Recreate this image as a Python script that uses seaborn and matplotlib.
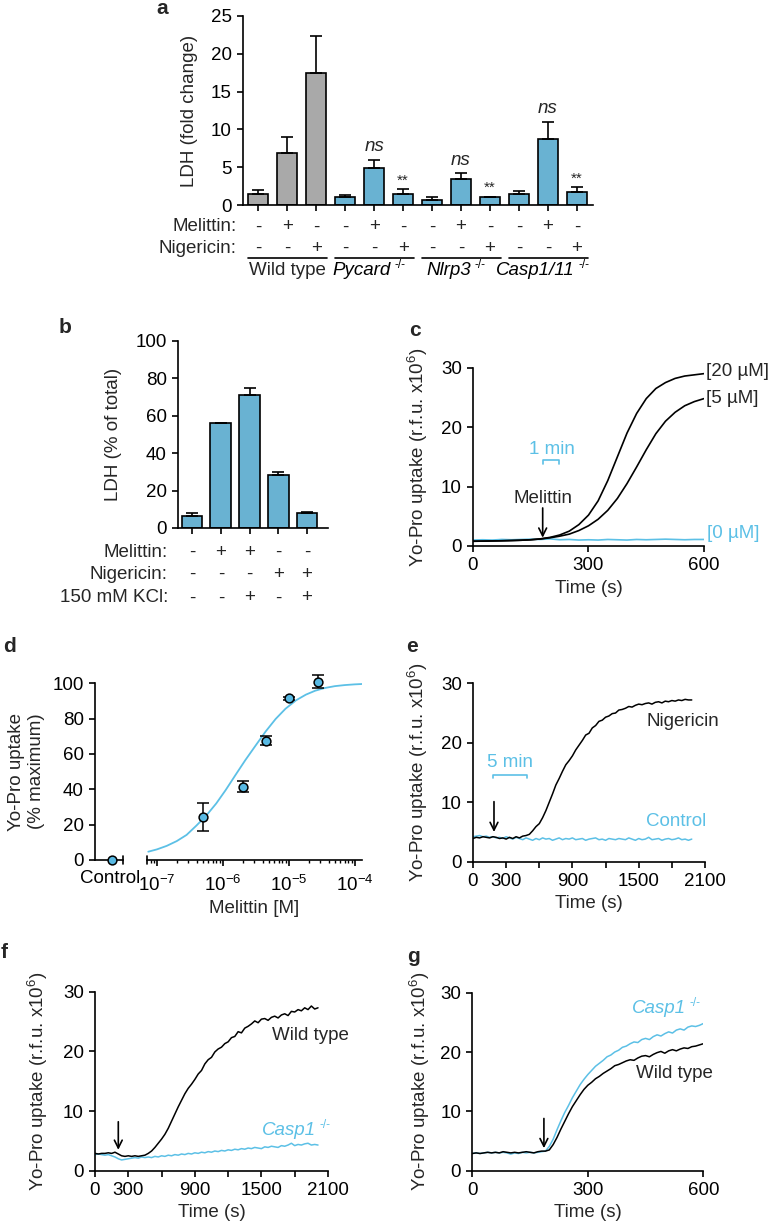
import numpy as np
import pandas as pd
import matplotlib
matplotlib.use('Agg')
import matplotlib.pyplot as plt
import matplotlib.ticker as mticker
import seaborn as sns

CYAN = '#58B9E3'
CYAN_LINE = '#5CC0E6'
GREY = '#A9A9A9'

# ---------------- data ----------------
# a: LDH fold change per genotype x treatment
a_groups = ['Wild type', 'Pycard', 'Nlrp3', 'Casp1/11']
a_melittin = ['-', '+', '-', '-', '+', '-', '-', '+', '-', '-', '+', '-']
a_nigericin = ['-', '-', '+', '-', '-', '+', '-', '-', '+', '-', '-', '+']
a_ldh = [1.5, 6.9, 17.5, 1.0, 4.9, 1.5, 0.7, 3.5, 1.0, 1.4, 8.7, 1.7]
a_err = [0.45, 2.05, 4.85, 0.3, 1.1, 0.6, 0.35, 0.7, 0.12, 0.4, 2.3, 0.7]
a_marks = ['', '', '', '', 'ns', '**', '', 'ns', '**', '', 'ns', '**']

# b: LDH % of total
b_melittin = ['-', '+', '+', '-', '-']
b_nigericin = ['-', '-', '-', '+', '+']
b_kcl = ['-', '-', '+', '-', '+']
b_ldh = [6.4, 56.0, 71.1, 28.3, 7.8]
b_err = [1.8, 0.3, 3.6, 1.7, 0.9]

# c: Yo-Pro uptake after melittin, 25 s sampling
c_time = np.arange(0, 601, 25)
c_20uM = [0.8, 0.82, 0.85, 0.88, 0.92, 0.97, 1.05, 1.2, 1.45, 1.85, 2.5, 3.6, 5.2,
          7.6, 11.0, 15.0, 19.0, 22.3, 24.8, 26.5, 27.5, 28.2, 28.6, 28.8, 29.0]
c_5uM = [0.8, 0.82, 0.85, 0.88, 0.92, 0.97, 1.05, 1.18, 1.38, 1.65, 2.0, 2.6, 3.4,
         4.5, 6.0, 8.0, 10.5, 13.3, 16.2, 18.9, 21.0, 22.5, 23.6, 24.3, 24.8]
c_0uM = [1.0, 1.05, 1.0, 1.1, 1.05, 1.1, 1.15, 1.1, 1.2, 1.05, 1.1, 1.0, 1.05,
         1.0, 1.1, 1.05, 1.0, 1.1, 1.05, 1.1, 1.15, 1.1, 1.05, 1.1, 1.1]

# d: dose response
d_conc = [5e-7, 2e-6, 4.5e-6, 1e-5, 2.8e-5]
d_uptake = [24.2, 41.5, 67.5, 91.5, 100.9]
d_err = [8.0, 3.0, 2.5, 1.0, 3.7]
d_control = 0.0
fit_conc = [7.4e-8, 1e-7, 1.41e-7, 2.0e-7, 2.82e-7, 3.98e-7, 5.62e-7, 7.94e-7, 1.10e-6,
            1.58e-6, 2.19e-6, 3.24e-6, 4.47e-6, 6.31e-6, 8.91e-6, 1.29e-5, 1.82e-5,
            2.51e-5, 3.47e-5, 5.01e-5, 7.08e-5, 1e-4, 1.29e-4]
fit_uptake = [4.7, 6.0, 8.0, 10.7, 14.2, 19.5, 25.2, 32.0, 39.5, 48.5, 56.5, 65.5,
              72.8, 79.8, 85.6, 90.4, 93.6, 95.8, 97.3, 98.4, 99.0, 99.4, 99.6]

# e: nigericin vs control, 30 s sampling
e_time = np.arange(0, 1981, 30)
e_nigericin = [3.9, 4.1, 4.0, 4.2, 4.1, 4.0, 4.2, 4.1, 3.9, 4.0, 3.8, 4.1, 3.9, 4.2, 4.0,
               4.3, 4.4, 4.6, 5.2, 5.9, 6.4, 7.4, 8.6, 10.0, 11.4, 12.9, 14.0, 15.2, 16.3,
               17.0, 17.8, 18.8, 19.6, 20.4, 21.3, 21.6, 22.5, 22.9, 23.6, 23.8, 24.3,
               24.5, 24.9, 25.0, 25.5, 25.6, 25.8, 26.1, 26.0, 26.3, 26.5, 26.4, 26.6,
               26.7, 26.5, 26.8, 26.9, 26.7, 27.0, 26.9, 27.1, 27.0, 27.2, 27.1, 27.3,
               27.2, 27.2]
e_control = [4.2, 4.3, 4.4, 4.2, 4.3, 4.1, 4.2, 4.0, 4.1, 3.9, 4.2, 4.0, 3.8, 4.1, 3.9,
             3.7, 4.0, 3.8, 3.6, 3.9, 3.7, 4.0, 3.8, 3.9, 3.6, 3.8, 4.0, 3.7, 3.9, 3.8,
             4.0, 3.7, 3.8, 3.9, 3.6, 3.8, 3.9, 4.0, 3.7, 3.8, 3.6, 3.9, 3.8, 3.7, 3.9,
             3.8, 3.7, 4.0, 3.8, 3.6, 3.9, 3.7, 3.8, 4.1, 3.7, 3.8, 3.9, 3.6, 3.8, 3.9,
             3.7, 3.8, 4.0, 3.7, 3.8, 3.6, 3.8]

# f: wild type vs Casp1-/-, 30 s sampling
f_time = np.arange(0, 2011, 30)
f_wildtype = [2.9, 2.8, 2.9, 2.9, 3.0, 2.9, 3.1, 2.8, 2.5, 2.4, 2.5, 2.4, 2.5, 2.4, 2.5,
              2.6, 2.9, 3.3, 3.9, 4.6, 5.3, 6.1, 7.1, 8.3, 9.5, 10.7, 11.8, 12.9, 13.8,
              14.5, 15.3, 16.2, 16.8, 17.9, 18.6, 19.0, 19.9, 20.4, 20.7, 21.3, 21.6,
              22.3, 22.5, 23.3, 23.1, 23.9, 24.2, 24.6, 25.1, 24.8, 25.4, 25.5, 25.2,
              25.7, 25.9, 25.6, 26.1, 26.3, 26.0, 26.7, 26.6, 27.0, 26.8, 27.3, 27.0,
              27.6, 27.1, 27.3]
f_casp1 = [2.7, 2.8, 2.7, 2.6, 2.7, 2.5, 2.3, 2.0, 1.8, 1.9, 2.0, 2.1, 2.2, 2.1, 2.3,
           2.2, 2.3, 2.2, 2.4, 2.3, 2.5, 2.4, 2.6, 2.5, 2.7, 2.6, 2.8, 2.7, 2.9, 2.8,
           3.0, 2.9, 3.1, 3.0, 3.2, 3.1, 3.3, 3.2, 3.4, 3.3, 3.5, 3.4, 3.6, 3.5, 3.7,
           3.6, 3.8, 3.7, 3.9, 3.8, 3.7, 4.0, 3.9, 4.1, 4.0, 3.9, 4.2, 4.1, 4.3, 4.6,
           4.2, 4.4, 4.3, 4.5, 4.6, 4.3, 4.4, 4.3]

# g: wild type vs Casp1-/-, 10 s sampling
g_time = np.arange(0, 601, 10)
g_wildtype = [2.9, 3.0, 2.9, 3.0, 3.1, 3.0, 3.1, 3.0, 3.2, 3.1, 3.0, 3.1, 3.0, 3.1, 3.2,
              3.1, 3.0, 3.2, 3.3, 3.3, 3.5, 4.4, 5.6, 7.0, 8.3, 9.6, 10.8, 11.8, 12.8,
              13.7, 14.4, 14.9, 15.5, 15.9, 16.4, 16.8, 17.2, 17.7, 17.9, 18.2, 18.5,
              18.7, 18.6, 19.0, 19.3, 19.4, 19.2, 19.6, 19.9, 20.1, 19.8, 20.2, 20.4,
              20.2, 20.5, 20.7, 20.6, 20.9, 21.0, 21.2, 21.4]
g_casp1 = [2.9, 3.0, 2.9, 3.0, 3.1, 3.0, 3.1, 3.0, 3.1, 3.0, 2.8, 3.0, 2.9, 3.1, 3.0,
           3.1, 3.0, 3.1, 3.2, 3.3, 4.1, 5.3, 6.9, 8.4, 9.8, 11.0, 12.3, 13.4, 14.5,
           15.4, 16.2, 16.9, 17.6, 18.1, 18.6, 19.2, 19.5, 20.0, 20.3, 20.8, 21.0,
           21.4, 21.7, 21.6, 22.1, 22.3, 22.1, 22.6, 22.9, 22.7, 23.1, 23.4, 23.2,
           23.7, 23.9, 23.7, 24.2, 24.4, 24.3, 24.5, 24.8]

# ---------------- style ----------------
sns.set_style('ticks')
plt.rcParams['font.family'] = ['Liberation Sans', 'DejaVu Sans']
plt.rcParams.update({
    'font.size': 13.5, 'axes.labelsize': 13.5, 'xtick.labelsize': 13.5,
    'ytick.labelsize': 13.5,
    'axes.linewidth': 1.2, 'xtick.major.width': 1.2, 'ytick.major.width': 1.2,
    'xtick.minor.width': 1.0, 'xtick.major.size': 4.5, 'ytick.major.size': 4.5,
    'xtick.minor.size': 2.5, 'xtick.direction': 'out', 'ytick.direction': 'out',
    'mathtext.fontset': 'custom', 'mathtext.rm': 'Liberation Sans',
    'mathtext.it': 'Liberation Sans:italic', 'mathtext.bf': 'Liberation Sans:bold',
    'axes.edgecolor': 'black', 'xtick.color': 'black', 'ytick.color': 'black',
})

W, H = 772, 1231
fig = plt.figure(figsize=(W / 100, H / 100), dpi=100)


def add_axes(x0, x1, y_top, y_bot, **kw):
    return fig.add_axes([x0 / W, 1 - y_bot / H, (x1 - x0) / W, (y_bot - y_top) / H], **kw)


def letter(x, y, s):
    fig.text(x / W, 1 - y / H, s, fontsize=15, fontweight='bold', ha='center', va='center')


def knockout(ax, x, y, name, transform, color='black', shift=-9):
    # italic gene name with a small "-/-" superscript
    t = ax.annotate(name, xy=(x, y), xycoords=transform, xytext=(shift, 0),
                    textcoords='offset points', ha='center', va='center',
                    style='italic', color=color, annotation_clip=False)
    ax.annotate('-/-', xy=(1, 0.78), xycoords=t, xytext=(2.5, 0),
                textcoords='offset points', ha='left', va='center', fontsize=8.5,
                color=color, annotation_clip=False)


YOPRO = 'Yo-Pro uptake (r.f.u. x10$^{6}$)'


def arrow(ax, x, y_tail, y_tip):
    ax.annotate('', xy=(x, y_tip), xytext=(x, y_tail),
                arrowprops=dict(arrowstyle='->', lw=1.2, color='black',
                                mutation_scale=14, shrinkA=0, shrinkB=0))


def bracket(ax, x0, x1, y, leg):
    ax.plot([x0, x0, x1, x1], [y - leg, y, y, y - leg], color=CYAN_LINE, lw=1.2)


# ---------------- a ----------------
ax = add_axes(243, 593, 16, 205)
df_a = pd.DataFrame({'bar': [f'b{i}' for i in range(12)], 'ldh': a_ldh})
pal_a = {f'b{i}': (GREY if i < 3 else CYAN) for i in range(12)}
sns.barplot(data=df_a, x='bar', y='ldh', hue='bar', palette=pal_a, legend=False,
            width=0.69, edgecolor='black', linewidth=1.2, errorbar=None, ax=ax)
ax.errorbar(range(12), a_ldh, yerr=[np.zeros(12), a_err], fmt='none', ecolor='black',
            elinewidth=1.2, capsize=4.5, capthick=1.2)
for i, m in enumerate(a_marks):
    if m == 'ns':
        ax.text(i, a_ldh[i] + a_err[i] + 0.6, 'ns', style='italic', ha='center', va='bottom')
    elif m:
        ax.text(i, a_ldh[i] + a_err[i] + 0.2, '**', ha='center', va='bottom', fontsize=11)
ax.set_xlim(-0.52, 11.55)
ax.set_ylim(0, 25)
ax.set_yticks([0, 5, 10, 15, 20, 25])
ax.set_xticks(range(12))
ax.set_xticklabels([])
ax.set_xlabel('')
ax.set_ylabel('LDH (fold change)')
ax.yaxis.set_label_coords(-0.129, 0.5)
sns.despine(ax=ax)
tr = ax.get_xaxis_transform()
ax.text(-0.75, -0.116, 'Melittin:', transform=tr, ha='right', va='center')
ax.text(-0.75, -0.228, 'Nigericin:', transform=tr, ha='right', va='center')
for i in range(12):
    ax.text(i, -0.116, a_melittin[i], transform=tr, ha='center', va='center')
    ax.text(i, -0.228, a_nigericin[i], transform=tr, ha='center', va='center')
for g, name in enumerate(a_groups):
    ax.plot([3 * g - 0.35, 3 * g + 2.38], [-0.28, -0.28], transform=tr, color='black',
            lw=1.2, clip_on=False)
    if g == 0:
        ax.text(3 * g + 1, -0.345, name, transform=tr, ha='center', va='center')
    else:
        knockout(ax, 3 * g + 1, -0.345, name, tr)
letter(162, 8, 'a')

# ---------------- b ----------------
ax = add_axes(178, 328, 341, 528)
df_b = pd.DataFrame({'bar': [f'b{i}' for i in range(5)], 'ldh': b_ldh})
sns.barplot(data=df_b, x='bar', y='ldh', color=CYAN, width=0.72, edgecolor='black',
            linewidth=1.2, errorbar=None, ax=ax)
ax.errorbar(range(5), b_ldh, yerr=[np.zeros(5), b_err], fmt='none', ecolor='black',
            elinewidth=1.2, capsize=4.5, capthick=1.2)
ax.set_xlim(-0.49, 4.73)
ax.set_ylim(0, 100)
ax.set_yticks([0, 20, 40, 60, 80, 100])
ax.set_xticks(range(5))
ax.set_xticklabels([])
ax.set_xlabel('')
ax.set_ylabel('LDH (% of total)')
ax.yaxis.set_label_coords(-0.373, 0.5)
sns.despine(ax=ax)
tr = ax.get_xaxis_transform()
for row, (lab, signs) in enumerate([('Melittin:', b_melittin), ('Nigericin:', b_nigericin),
                                     ('150 mM KCl:', b_kcl)]):
    yy = [-0.132, -0.246, -0.374][row]
    ax.text(-0.84, yy, lab, transform=tr, ha='right', va='center')
    for i, s in enumerate(signs):
        ax.text(i, yy, s, transform=tr, ha='center', va='center')
letter(65, 327, 'b')

# ---------------- c ----------------
ax = add_axes(473, 704, 367.7, 546)
sns.lineplot(x=c_time, y=c_0uM, color=CYAN_LINE, lw=1.2, ax=ax)
sns.lineplot(x=c_time, y=c_5uM, color='black', lw=1.2, ax=ax)
sns.lineplot(x=c_time, y=c_20uM, color='black', lw=1.2, ax=ax)
ax.set_xlim(0, 600)
ax.set_ylim(0, 30)
ax.set_xticks([0, 300, 600])
ax.set_yticks([0, 10, 20, 30])
ax.set_xlabel('Time (s)')
ax.set_ylabel(YOPRO)
ax.yaxis.set_label_coords(-0.186, 0.5)
sns.despine(ax=ax)
ax.text(606, 29.4, '[20 \u00b5M]', ha='left', va='center', clip_on=False)
ax.text(606, 24.9, '[5 \u00b5M]', ha='left', va='center', clip_on=False)
ax.text(608, 2.1, '[0 \u00b5M]', ha='left', va='center', color=CYAN_LINE, clip_on=False)
ax.text(183, 8.0, 'Melittin', ha='center', va='center')
arrow(ax, 181, 6.4, 1.4)
ax.text(204, 16.3, '1 min', ha='center', va='center', color=CYAN_LINE)
bracket(ax, 183, 224, 14.4, 0.6)
letter(415, 331, 'c')

# ---------------- d ----------------
ax_l = add_axes(95, 123, 683.3, 860)
ax_r = add_axes(147, 362, 683.3, 860, sharey=ax_l)
sns.scatterplot(x=[0.6], y=[d_control], color=CYAN, edgecolor='black', linewidth=1.1,
                s=40, ax=ax_l, clip_on=False, zorder=3)
ax_l.set_xlim(0, 1)
ax_l.set_ylim(0, 100)
ax_l.set_yticks([0, 20, 40, 60, 80, 100])
ax_l.set_xticks([0.55])
ax_l.set_xticklabels(['Control'])
ax_l.tick_params(axis='x', length=0, pad=7)
ax_l.set_ylabel('Yo-Pro uptake\n(% maximum)', multialignment='center')
ax_l.yaxis.set_label_coords(-1.79, 0.5)
sns.despine(ax=ax_l)
ax_l.plot([1, 1], [-0.02, 0.02], transform=ax_l.transAxes, color='black', lw=1.2,
          clip_on=False)

sns.lineplot(x=fit_conc, y=fit_uptake, color=CYAN_LINE, lw=1.3, ax=ax_r)
ax_r.errorbar(d_conc, d_uptake, yerr=d_err, fmt='none', ecolor='black', elinewidth=1.1,
              capsize=4, capthick=1.1, clip_on=False, zorder=3)
sns.scatterplot(x=d_conc, y=d_uptake, color=CYAN, edgecolor='black', linewidth=1.1, s=40,
                ax=ax_r, clip_on=False, zorder=4)
ax_r.set_xscale('log')
ax_r.set_xlim(10 ** -7.15, 10 ** -3.89)
ax_r.xaxis.set_major_locator(mticker.LogLocator(base=10, numticks=10))
ax_r.xaxis.set_minor_locator(mticker.LogLocator(base=10, subs=np.arange(2, 10), numticks=20))
ax_r.xaxis.set_minor_formatter(mticker.NullFormatter())
ax_r.set_xlabel('Melittin [M]')
ax_r.set_ylabel('')
ax_r.tick_params(axis='y', left=False, labelleft=False)
ax_r.tick_params(axis='x', pad=6)
for sp in ['left', 'top', 'right']:
    ax_r.spines[sp].set_visible(False)
ax_r.plot([0, 0], [-0.02, 0.02], transform=ax_r.transAxes, color='black', lw=1.2,
          clip_on=False)
letter(10, 646, 'd')

# ---------------- e ----------------
ax = add_axes(473, 705, 683.3, 861.7)
sns.lineplot(x=e_time, y=e_control, color=CYAN_LINE, lw=1.1, ax=ax)
sns.lineplot(x=e_time, y=e_nigericin, color='black', lw=1.1, ax=ax)
ax.set_xlim(0, 2100)
ax.set_ylim(0, 30)
ax.set_xticks(range(0, 2101, 300))
ax.set_xticklabels(['0', '300', '', '900', '', '1500', '', '2100'])
ax.set_yticks([0, 10, 20, 30])
ax.set_xlabel('Time (s)')
ax.set_ylabel(YOPRO)
ax.yaxis.set_label_coords(-0.185, 0.5)
sns.despine(ax=ax)
ax.text(1903, 23.5, 'Nigericin', ha='center', va='center')
ax.text(1843, 6.7, 'Control', ha='center', va='center', color=CYAN_LINE)
ax.text(335, 16.6, '5 min', ha='center', va='center', color=CYAN_LINE)
bracket(ax, 184, 486, 14.6, 0.6)
arrow(ax, 190, 10.1, 5.0)
letter(412, 647, 'e')

# ---------------- f ----------------
ax = add_axes(95, 328, 991.7, 1170.7)
sns.lineplot(x=f_time, y=f_casp1, color=CYAN_LINE, lw=1.1, ax=ax)
sns.lineplot(x=f_time, y=f_wildtype, color='black', lw=1.1, ax=ax)
ax.set_xlim(0, 2100)
ax.set_ylim(0, 30)
ax.set_xticks(range(0, 2101, 300))
ax.set_xticklabels(['0', '300', '', '900', '', '1500', '', '2100'])
ax.set_yticks([0, 10, 20, 30])
ax.set_xlabel('Time (s)')
ax.set_ylabel(YOPRO)
ax.yaxis.set_label_coords(-0.193, 0.5)
sns.despine(ax=ax)
ax.text(1938, 22.6, 'Wild type', ha='center', va='center')
knockout(ax, 1862, 6.8, 'Casp1', ax.transData, color=CYAN_LINE)
arrow(ax, 210, 8.2, 3.5)
letter(4, 953, 'f')

# ---------------- g ----------------
ax = add_axes(472.3, 703.3, 992.7, 1170.7)
sns.lineplot(x=g_time, y=g_casp1, color=CYAN_LINE, lw=1.1, ax=ax)
sns.lineplot(x=g_time, y=g_wildtype, color='black', lw=1.1, ax=ax)
ax.set_xlim(0, 600)
ax.set_ylim(0, 30)
ax.set_xticks([0, 300, 600])
ax.set_yticks([0, 10, 20, 30])
ax.set_xlabel('Time (s)')
ax.set_ylabel(YOPRO)
ax.yaxis.set_label_coords(-0.173, 0.5)
sns.despine(ax=ax)
knockout(ax, 518, 27.4, 'Casp1', ax.transData, color=CYAN_LINE)
ax.text(526, 16.4, 'Wild type', ha='center', va='center')
arrow(ax, 186, 8.8, 3.8)
letter(413, 956, 'g')

fig.savefig('out.png', dpi=100)
